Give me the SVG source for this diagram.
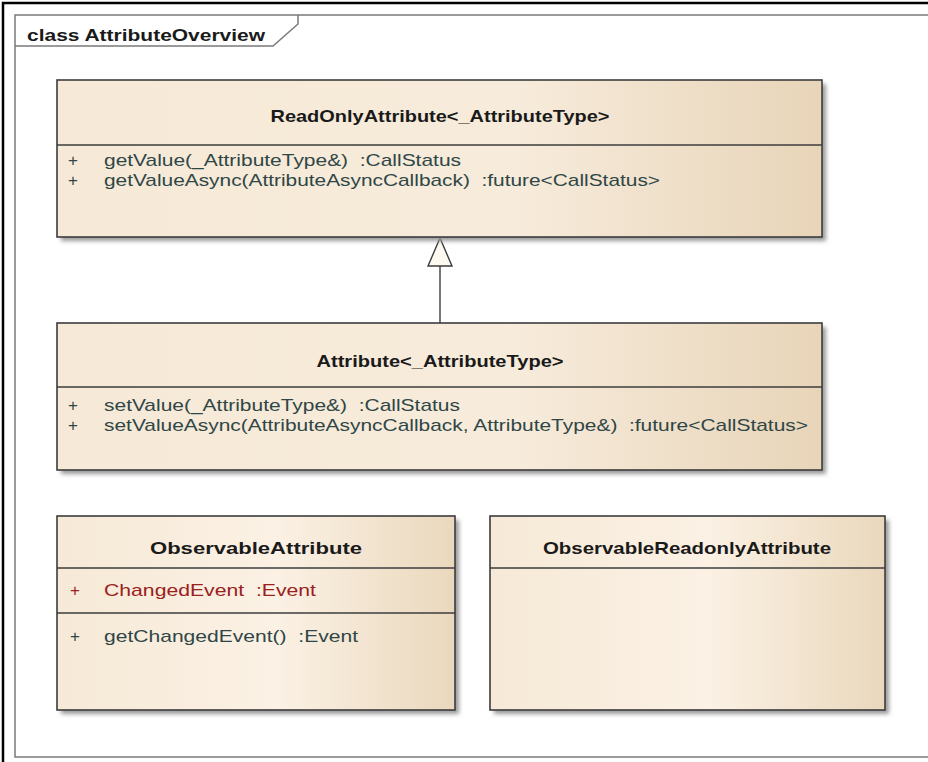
<svg xmlns="http://www.w3.org/2000/svg" width="928" height="762" viewBox="0 0 928 762">
<defs>
<linearGradient id="g1" x1="0" y1="0" x2="1" y2="0">
<stop offset="0" stop-color="#f6e9d7"/>
<stop offset="0.6" stop-color="#f7ebdb"/>
<stop offset="1" stop-color="#e8d5b9"/>
</linearGradient>
<linearGradient id="g2" x1="0" y1="0" x2="1" y2="0">
<stop offset="0" stop-color="#f6e9d7"/>
<stop offset="0.55" stop-color="#fbf1e4"/>
<stop offset="1" stop-color="#ead8bd"/>
</linearGradient>
<filter id="sh" x="-5%" y="-5%" width="115%" height="125%">
<feGaussianBlur stdDeviation="2"/>
</filter>
</defs>
<style>
.frame{fill:none;stroke:#7a7a7a;stroke-width:1.5}
.box{stroke:#3c3c3c;stroke-width:1.6}
.shadow{fill:#9a9a9a;filter:url(#sh)}
.div{stroke:#3c3c3c;stroke-width:1.6}
.title{font-family:"Liberation Sans",Arial,sans-serif;font-weight:bold;font-size:17px;fill:#1a1a1a}
.m{font-family:"Liberation Sans",Arial,sans-serif;font-size:17px;fill:#2f4646;white-space:pre}
.r{font-family:"Liberation Sans",Arial,sans-serif;font-size:17px;fill:#9b2020;white-space:pre}
.lbl{font-family:"Liberation Sans",Arial,sans-serif;font-weight:bold;font-size:17px;fill:#1a1a1a}
.conn{stroke:#3c3c3c;stroke-width:1.4;fill:none}
</style>
<rect width="928" height="762" fill="#ffffff"/>
<path d="M3,762 V3 H928" fill="none" stroke="#000" stroke-width="2.5"/>
<g id="frame">
<rect class="frame" x="15" y="15" width="930" height="742"/>
<path class="frame" d="M15,46 H273 L298,24 V15"/>
<text class="lbl" x="27" y="41" textLength="238" lengthAdjust="spacingAndGlyphs">class AttributeOverview</text>
</g>
<g id="connectors">
<line class="conn" x1="440" y1="266" x2="440" y2="323"/>
<polygon points="440,238 428,266 452,266" fill="#fdf8f0" stroke="#3c3c3c" stroke-width="1.4"/>
</g>
<g id="ReadOnlyAttribute">
<rect class="shadow" x="61" y="84" width="765" height="157"/>
<rect class="box" x="57" y="80" width="765" height="157" fill="url(#g1)"/>
<line class="div" x1="57" y1="145" x2="822" y2="145"/>
<text class="title" x="440" y="122" text-anchor="middle" textLength="339" lengthAdjust="spacingAndGlyphs">ReadOnlyAttribute&lt;_AttributeType&gt;</text>
<text class="m" x="68" y="166">+</text>
<text class="m" x="104" y="166" textLength="357" lengthAdjust="spacingAndGlyphs">getValue(_AttributeType&amp;)  :CallStatus</text>
<text class="m" x="68" y="186">+</text>
<text class="m" x="104" y="186" textLength="556" lengthAdjust="spacingAndGlyphs">getValueAsync(AttributeAsyncCallback)  :future&lt;CallStatus&gt;</text>
</g>
<g id="Attribute">
<rect class="shadow" x="61" y="327" width="765" height="147"/>
<rect class="box" x="57" y="323" width="765" height="147" fill="url(#g1)"/>
<line class="div" x1="57" y1="387" x2="822" y2="387"/>
<text class="title" x="440" y="367" text-anchor="middle" textLength="247" lengthAdjust="spacingAndGlyphs">Attribute&lt;_AttributeType&gt;</text>
<text class="m" x="68" y="411">+</text>
<text class="m" x="104" y="411" textLength="356" lengthAdjust="spacingAndGlyphs">setValue(_AttributeType&amp;)  :CallStatus</text>
<text class="m" x="68" y="431">+</text>
<text class="m" x="104" y="431" textLength="704" lengthAdjust="spacingAndGlyphs">setValueAsync(AttributeAsyncCallback, AttributeType&amp;)  :future&lt;CallStatus&gt;</text>
</g>
<g id="ObservableAttribute">
<rect class="shadow" x="61" y="520" width="398" height="194"/>
<rect class="box" x="57" y="516" width="398" height="194" fill="url(#g2)"/>
<line class="div" x1="57" y1="568" x2="455" y2="568"/>
<line class="div" x1="57" y1="613" x2="455" y2="613"/>
<text class="title" x="256" y="554" text-anchor="middle" textLength="212" lengthAdjust="spacingAndGlyphs">ObservableAttribute</text>
<text class="r" x="70" y="596">+</text>
<text class="r" x="104" y="596" textLength="212" lengthAdjust="spacingAndGlyphs">ChangedEvent  :Event</text>
<text class="m" x="70" y="642">+</text>
<text class="m" x="104" y="642" textLength="254" lengthAdjust="spacingAndGlyphs">getChangedEvent()  :Event</text>
</g>
<g id="ObservableReadonlyAttribute">
<rect class="shadow" x="494" y="520" width="395" height="194"/>
<rect class="box" x="490" y="516" width="395" height="194" fill="url(#g2)"/>
<line class="div" x1="490" y1="568" x2="885" y2="568"/>
<text class="title" x="687" y="554" text-anchor="middle" textLength="288" lengthAdjust="spacingAndGlyphs">ObservableReadonlyAttribute</text>
</g>
</svg>
